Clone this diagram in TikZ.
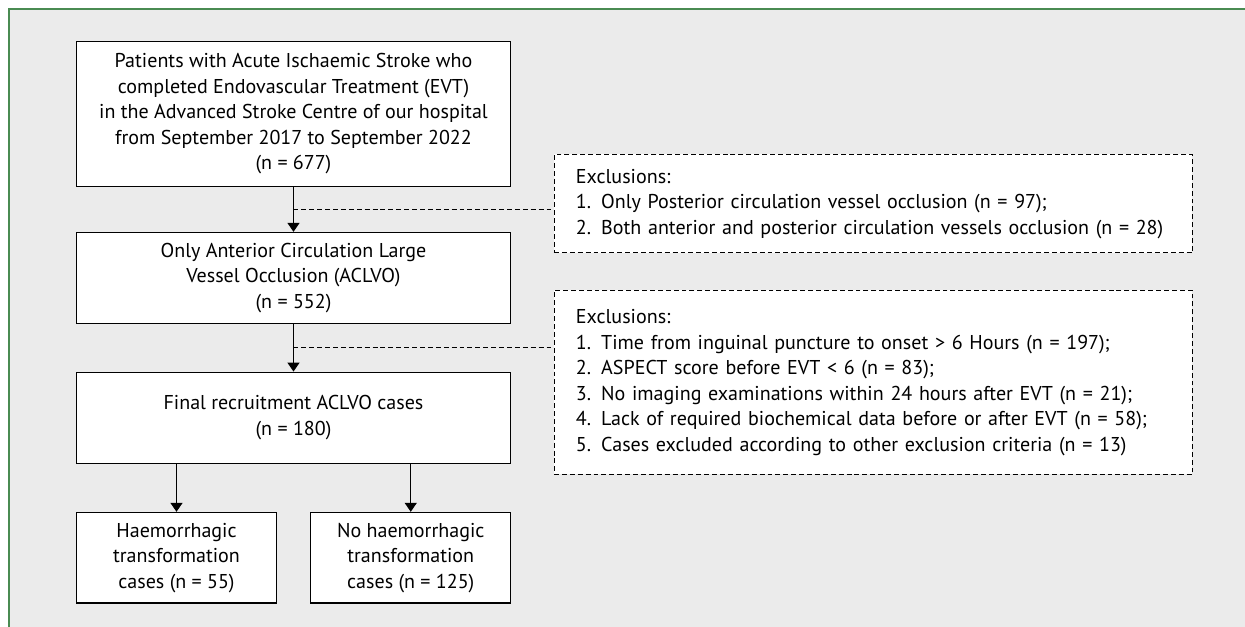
\documentclass[tikz,border=0pt]{standalone}
\usepackage{fontspec}
\setmainfont{PT Sans}
\usepackage{xcolor}
\usepackage{tikz}
\usetikzlibrary{arrows.meta, positioning, calc}

\definecolor{framegreen}{HTML}{4A8B52}
\definecolor{panelgray}{HTML}{EBEBEB}

\begin{document}
\begin{tikzpicture}[>={Triangle[length=0.18cm, width=0.24cm]},
    font=\fontsize{11.4}{14.5}\selectfont,
    box/.style={draw, rectangle, fill=white, line width=0.7pt, align=center, inner sep=0pt},
    exclbox/.style={draw, rectangle, fill=white, dash pattern=on 2.8pt off 1.7pt, line width=0.55pt, align=left, inner xsep=0.44cm, inner ysep=0pt, text width=11.89cm},
    link/.style={dash pattern=on 2.8pt off 1.7pt, line width=0.55pt}]
    % panel
    \useasboundingbox (0,0) rectangle (24.9,-12.54);
    \fill [panelgray] (0.18,-0.18) rectangle (24.9,-12.54);
    \draw [framegreen, line width=0.9pt] (0.18,-12.54) -- (0.18,-0.18) -- (24.9,-0.18);

    \node [box, minimum width=8.69cm, minimum height=2.89cm] (patients) at (5.87,-2.28) {Patients with Acute Ischaemic Stroke who\\completed Endovascular Treatment (EVT)\\in the Advanced Stroke Centre of our hospital\\from September 2017 to September 2022\\(n = 677)};
    \node [box, minimum width=8.69cm, minimum height=1.82cm, below=0.9cm of patients] (aclvo) {Only Anterior Circulation Large\\Vessel Occlusion (ACLVO)\\(n = 552)};
    \node [box, minimum width=8.69cm, minimum height=1.82cm, below=0.95cm of aclvo] (final) {Final recruitment ACLVO cases\\(n = 180)};
    \node [box, minimum width=4.01cm, minimum height=1.81cm, below=0.96cm of final.south west, anchor=north west] (ht) {Haemorrhagic\\transformation\\cases (n = 55)};
    \node [box, minimum width=4.0cm, minimum height=1.81cm, below=0.96cm of final.south east, anchor=north east] (noht) {No haemorrhagic\\transformation\\cases (n = 125)};

    \node [exclbox, minimum height=1.97cm, anchor=north west] (excl1) at (11.07,-3.08) {Exclusions:\\1. Only Posterior circulation vessel occlusion (n = 97);\\2. Both anterior and posterior circulation vessels occlusion (n = 28)};
    \node [exclbox, minimum height=3.68cm, anchor=north west] (excl2) at (11.07,-5.8) {Exclusions:\\1. Time from inguinal puncture to onset > 6 Hours (n = 197);\\2. ASPECT score before EVT < 6 (n = 83);\\3. No imaging examinations within 24 hours after EVT (n = 21);\\4. Lack of required biochemical data before or after EVT (n = 58);\\5. Cases excluded according to other exclusion criteria (n = 13)};

    \coordinate (m1) at ($(patients.south)!0.5!(aclvo.north)$);
    \coordinate (m2) at ($(aclvo.south)!0.5!(final.north)$);

    \draw [->, line width=0.7pt] (patients) -- (aclvo);
    \draw [->, line width=0.7pt] (aclvo) -- (final);
    \draw [->, line width=0.7pt] (final.south -| ht) -- (ht);
    \draw [->, line width=0.7pt] (final.south -| noht) -- (noht);
    \draw [link] (m1) -- (m1 -| excl1.west);
    \draw [link] (m2) -- (m2 -| excl2.west);
\end{tikzpicture}
\end{document}
